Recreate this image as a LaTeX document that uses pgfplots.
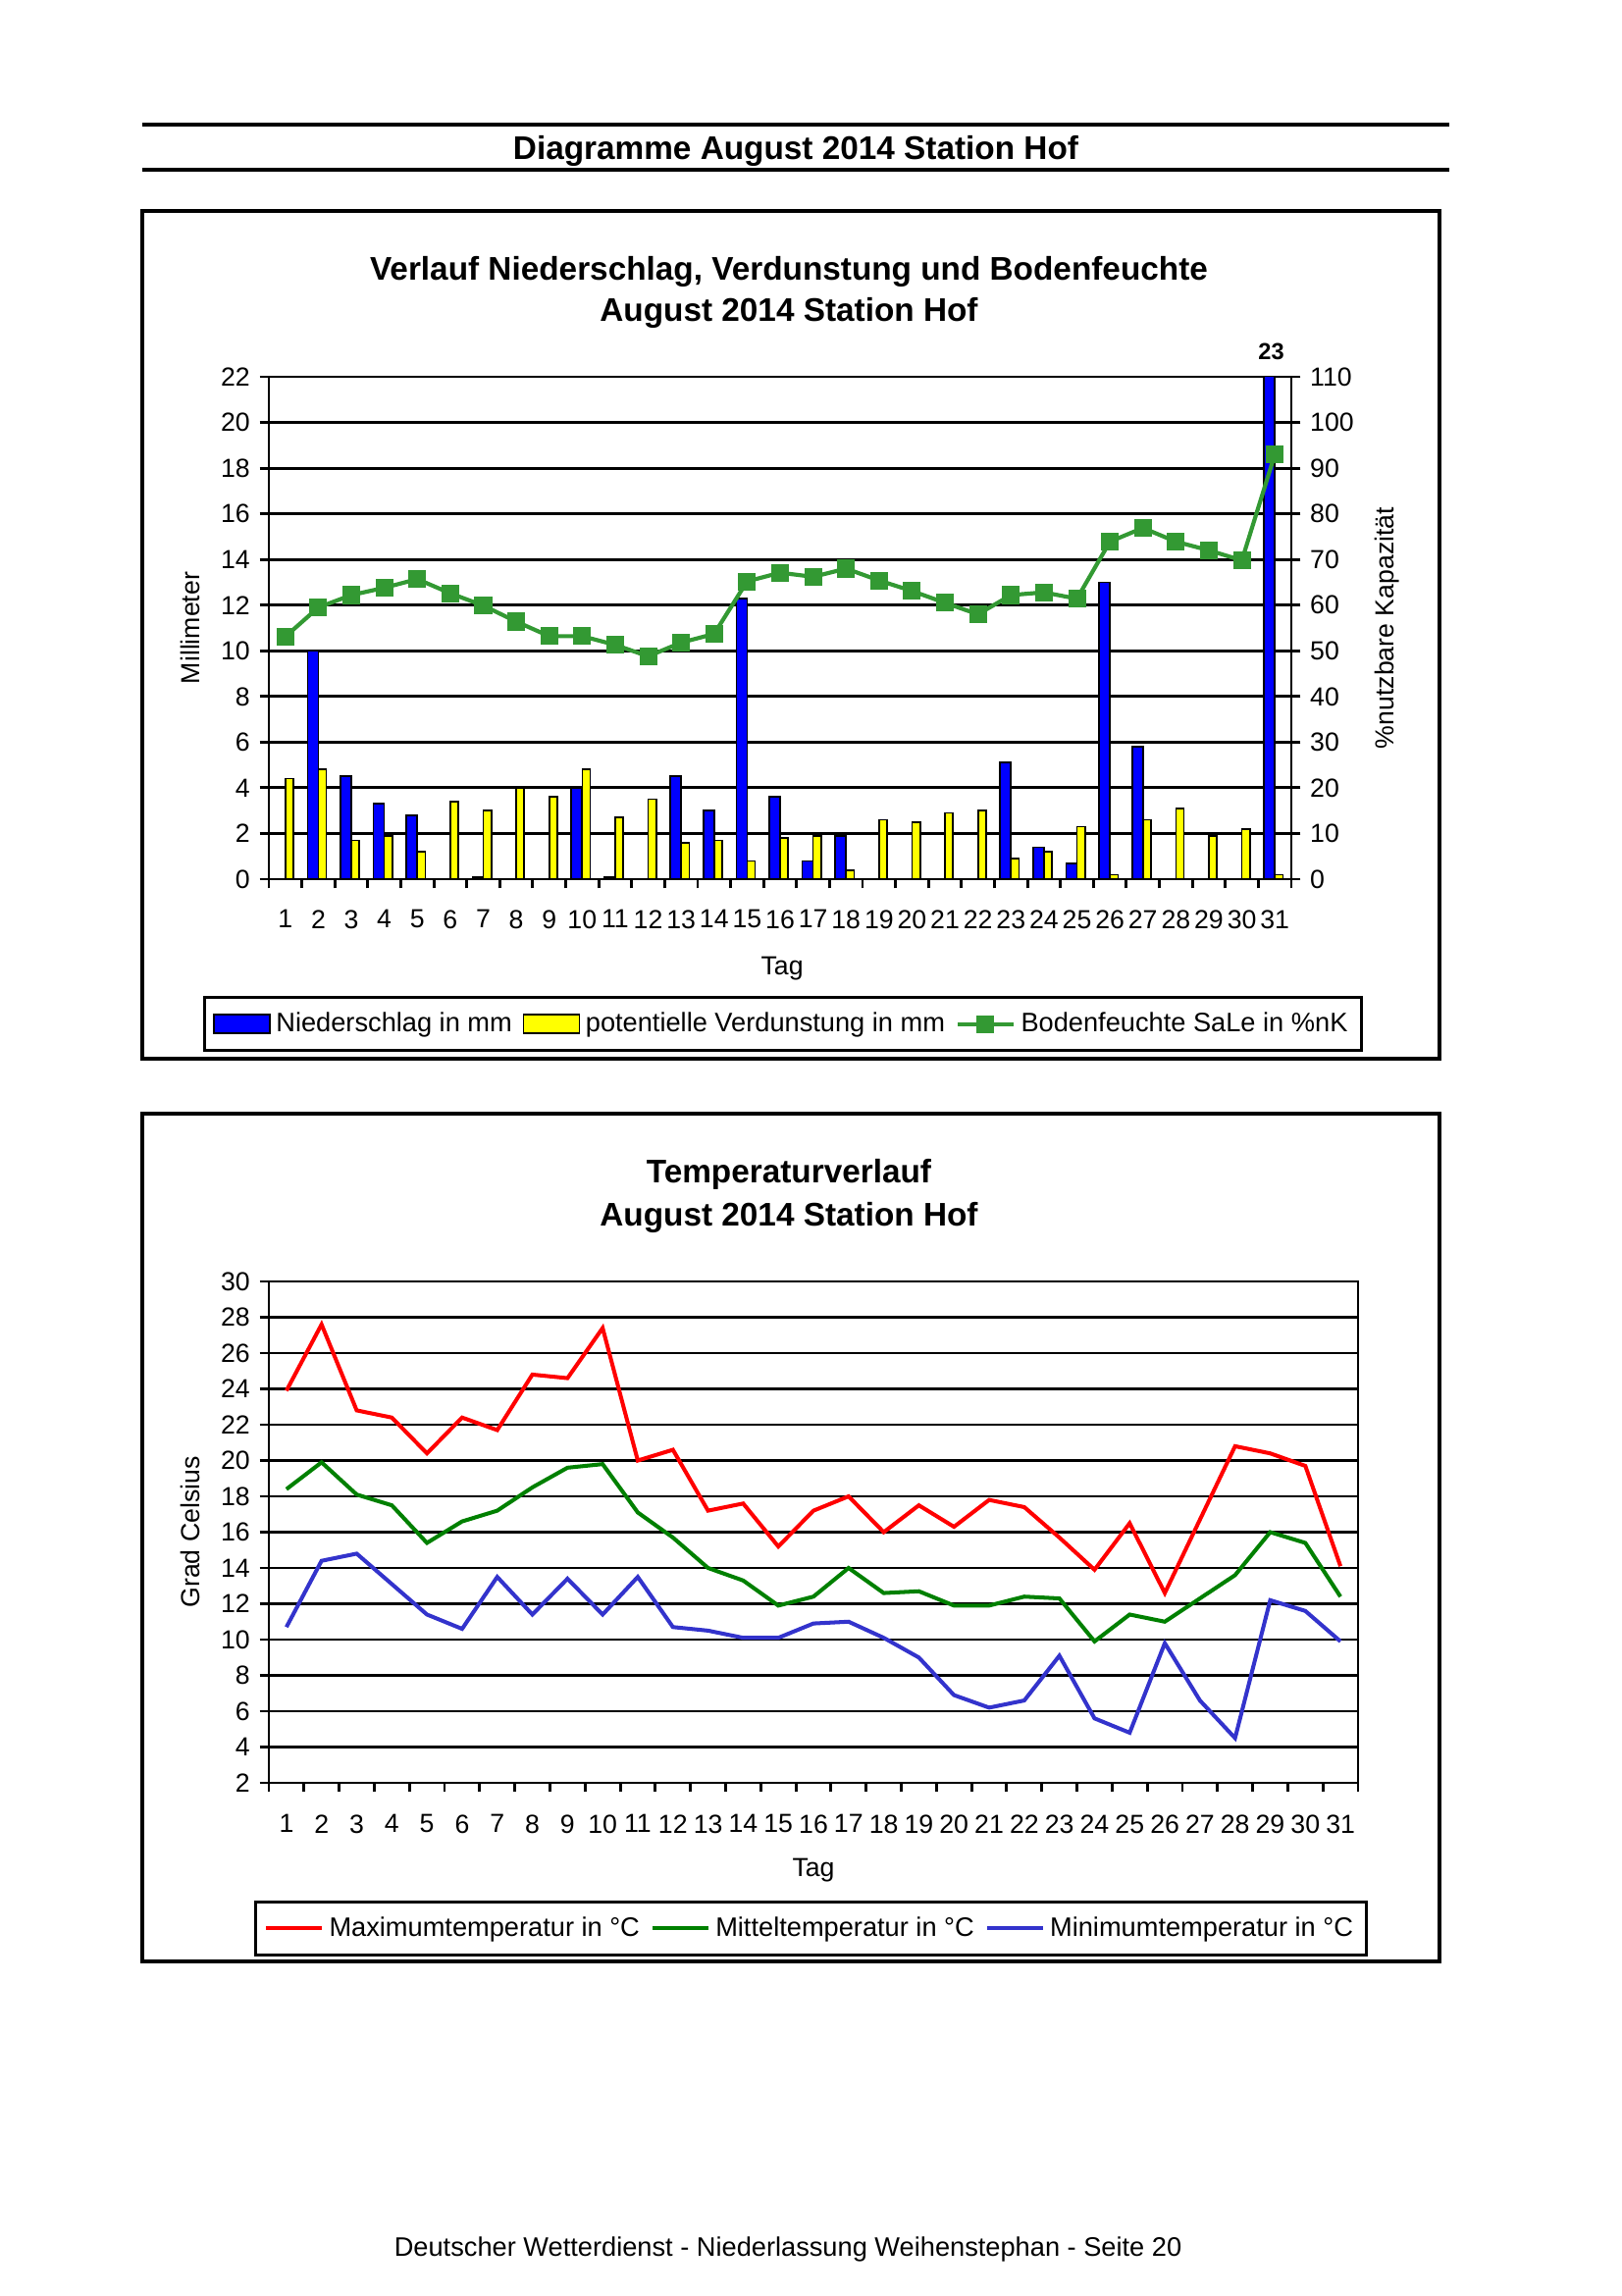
\documentclass[border=0pt]{standalone}
\usepackage{fontspec}
\setmainfont{Liberation Sans}
\usepackage{pgfplots}
\usepackage{pgfplotstable}
\pgfplotsset{compat=1.18}

\definecolor{barblue}{RGB}{0,0,255}
\definecolor{baryellow}{RGB}{255,255,0}
\definecolor{soil}{RGB}{51,153,51}
\definecolor{tred}{RGB}{255,0,0}
\definecolor{tgreen}{RGB}{0,128,0}
\definecolor{tblue}{RGB}{51,51,204}

\newcommand\tickfont{\fontsize{9.6bp}{11.5bp}\selectfont}
\newcommand\legfont{\fontsize{9.8bp}{11.5bp}\selectfont}
\newcommand\titlefont{\bfseries\fontsize{12bp}{14bp}\selectfont}

\pgfplotstableread{
day nied verd boden
1 0 4.4 53.1
2 10.0 4.8 59.5
3 4.5 1.7 62.2
4 3.3 1.9 63.8
5 2.8 1.2 65.7
6 0 3.4 62.6
7 0.1 3.0 59.9
8 0 4.0 56.4
9 0 3.6 53.2
10 4.0 4.8 53.2
11 0.1 2.7 51.3
12 0 3.5 48.8
13 4.5 1.6 51.8
14 3.0 1.7 53.7
15 12.3 0.8 65.2
16 3.6 1.8 67.1
17 0.8 1.9 66.2
18 1.9 0.4 68.0
19 0 2.6 65.4
20 0 2.5 63.1
21 0 2.9 60.5
22 0 3.0 58.0
23 5.1 0.9 62.2
24 1.4 1.2 62.8
25 0.7 2.3 61.4
26 13.0 0.2 73.9
27 5.8 2.6 76.9
28 0 3.1 73.9
29 0 1.9 72.0
30 0 2.2 69.8
31 23.0 0.2 93.0
}\precip

\pgfplotstableread{
day tmax tmit tmin
1 23.9 18.4 10.7
2 27.6 19.9 14.4
3 22.8 18.1 14.8
4 22.4 17.5 13.1
5 20.4 15.4 11.4
6 22.4 16.6 10.6
7 21.7 17.2 13.5
8 24.8 18.5 11.4
9 24.6 19.6 13.4
10 27.4 19.8 11.4
11 20.0 17.1 13.5
12 20.6 15.7 10.7
13 17.2 14.0 10.5
14 17.6 13.3 10.1
15 15.2 11.9 10.1
16 17.2 12.4 10.9
17 18.0 14.0 11.0
18 16.0 12.6 10.1
19 17.5 12.7 9.0
20 16.3 11.9 6.9
21 17.8 11.9 6.2
22 17.4 12.4 6.6
23 15.7 12.3 9.1
24 13.9 9.9 5.6
25 16.5 11.4 4.8
26 12.6 11.0 9.8
27 16.7 12.3 6.6
28 20.8 13.6 4.5
29 20.4 16.0 12.2
30 19.7 15.4 11.6
31 14.1 12.4 9.9
}\temps

\pgfplotsset{
  dwd/.style={
    scale only axis, anchor=south west,
    xmin=0.5, xmax=31.5,
    tick align=outside, major tick length=3.4bp,
    tick style={black, line width=1.05bp},
    axis line style={line width=1.05bp},
    tick label style={font=\tickfont},
    label style={font=\tickfont},
    /pgf/number format/assume math mode=true,
    clip mode=individual,
  },
  dwdx/.style={
    xtick={0.5,1.5,...,31.5},
    xticklabels={1,2,3,4,5,6,7,8,9,10,11,12,13,14,15,16,17,18,19,20,21,22,23,24,25,26,27,28,29,30,31,{}},
    xtick pos=bottom,
  },
  dwdlegend/.style={
    legend columns=-1,
    legend style={draw=black, line width=1.1bp, font=\legfont,
      inner xsep=3.0bp, inner ysep=3.4bp,
      /tikz/every even column/.append style={column sep=1.9bp}},
  },
  rectlegend/.style={legend image code/.code={\draw[##1] (0bp,-3.4bp) rectangle (20.5bp,3.4bp);}},
  linelegend/.style={legend image code/.code={\draw[mark repeat=2,mark phase=2,##1] plot coordinates {(0bp,0bp) (10.25bp,0bp) (20.5bp,0bp)};}},
}

\begin{document}
\begin{tikzpicture}
\path[use as bounding box] (0,0) rectangle (595.08bp,-842.4bp);

% header
\draw[line width=1.2bp] (52.2bp,-45.72bp) -- (531.72bp,-45.72bp);
\draw[line width=1.2bp] (52.2bp,-62.28bp) -- (531.72bp,-62.28bp);
\node[font=\titlefont] at (291.96bp,-55.3bp) {Diagramme August 2014 Station Hof};

% frames
\draw[line width=1.1bp] (52.2bp,-77.4bp) rectangle (528.12bp,-388.44bp);
\draw[line width=1.1bp] (52.2bp,-408.6bp) rectangle (528.12bp,-719.64bp);

% titles
\node[font=\titlefont] at (289.44bp,-99.6bp) {Verlauf Niederschlag, Verdunstung und Bodenfeuchte};
\node[font=\titlefont] at (289.44bp,-114.8bp) {August 2014 Station Hof};
\node[font=\titlefont] at (289.44bp,-431.0bp) {Temperaturverlauf};
\node[font=\titlefont] at (289.44bp,-446.9bp) {August 2014 Station Hof};

% footer
\node[font=\fontsize{9.8bp}{12bp}\selectfont] at (289.1bp,-825.4bp) {Deutscher Wetterdienst - Niederlassung Weihenstephan - Seite 20};

% ---------- top chart, left axis (bars)
\begin{axis}[dwd, dwdx, dwdlegend,
  at={(98.64bp,-322.56bp)}, width=375.12bp, height=184.32bp,
  ymin=0, ymax=22, ytick={0,2,...,22}, ytick pos=left,
  xticklabel style={xshift=6.05bp, yshift=-4.4bp},
  ymajorgrids, grid style={black, line width=1.05bp},
  xlabel={Tag}, xlabel style={at={(axis description cs:0.502,-0.177)}, anchor=center},
  ylabel={Millimeter}, ylabel style={at={(axis description cs:-0.0768,0.5)}, anchor=center},
  legend style={at={(0.503,-0.233)}, anchor=north},
]
\addplot[ybar, bar width=3.96bp, bar shift=-1.98bp, fill=barblue, draw=black, line width=0.6bp, rectlegend] table[x=day,y=nied]{\precip};
\addlegendentry{Niederschlag in mm}
\addplot[ybar, bar width=2.95bp, bar shift=1.48bp, fill=baryellow, draw=black, line width=0.6bp, rectlegend] table[x=day,y=verd]{\precip};
\addlegendentry{potentielle Verdunstung in mm}
\addlegendimage{soil, line width=1.5bp, mark=square*, mark size=2.5bp, linelegend}
\addlegendentry{Bodenfeuchte SaLe in \%nK}
\node[font=\bfseries\fontsize{8.5bp}{10bp}\selectfont, anchor=center, yshift=9.4bp] at (axis cs:30.89,22) {23};
\end{axis}

% ---------- top chart, right axis (soil moisture)
\begin{axis}[dwd,
  at={(98.64bp,-322.56bp)}, width=375.12bp, height=184.32bp,
  axis x line=none, axis y line*=right,
  ymin=0, ymax=110, ytick={0,10,...,110},
  ylabel={\%nutzbare Kapazität}, ylabel style={at={(axis description cs:1.094,0.5)}, anchor=center, rotate=0},
]
\addplot[soil, line width=1.5bp, mark=square*, mark size=2.5bp] table[x=day,y=boden]{\precip};
\end{axis}

% ---------- bottom chart (temperatures)
\begin{axis}[dwd, dwdx, dwdlegend,
  at={(98.64bp,-654.12bp)}, width=399.6bp, height=183.96bp,
  ymin=2, ymax=30, ytick={2,4,...,30}, ytick pos=left,
  xticklabel style={xshift=6.45bp, yshift=-4.8bp},
  ymajorgrids, grid style={black, line width=1.05bp},
  xlabel={Tag}, xlabel style={at={(axis description cs:0.5,-0.175)}, anchor=center},
  ylabel={Grad Celsius}, ylabel style={at={(axis description cs:-0.0721,0.5)}, anchor=center},
  legend style={at={(0.498,-0.2348)}, anchor=north},
]
\addplot[tred, line width=1.45bp, linelegend] table[x=day,y=tmax]{\temps};
\addlegendentry{Maximumtemperatur in °C}
\addplot[tgreen, line width=1.45bp, linelegend] table[x=day,y=tmit]{\temps};
\addlegendentry{Mitteltemperatur in °C}
\addplot[tblue, line width=1.45bp, linelegend] table[x=day,y=tmin]{\temps};
\addlegendentry{Minimumtemperatur in °C}
\end{axis}
\end{tikzpicture}
\end{document}
